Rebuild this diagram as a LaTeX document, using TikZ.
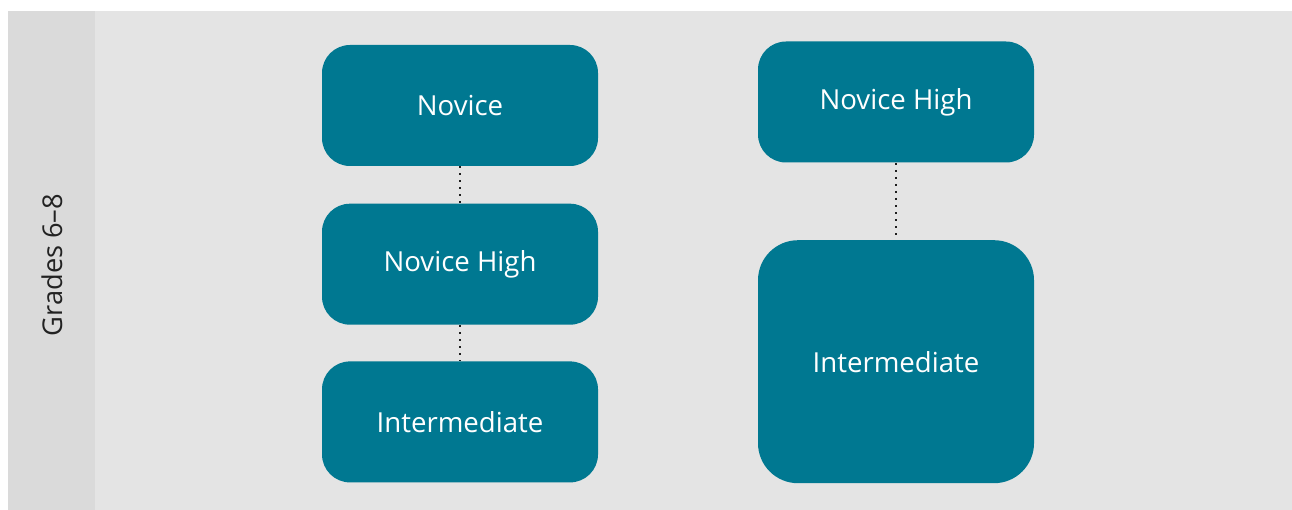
\documentclass[tikz,border=0pt]{standalone}
\usepackage{fontspec}
\setmainfont{Open Sans}
\usepackage{tikz}
\usetikzlibrary{
  positioning,
  backgrounds
}
\definecolor{levelcolor}{RGB}{0, 120, 145}
\definecolor{panelcolor}{RGB}{228, 228, 228}
\definecolor{sidecolor}{RGB}{218, 218, 218}
\definecolor{gradecolor}{RGB}{34, 34, 34}
\definecolor{dotcolor}{RGB}{30, 30, 30}
\tikzset{
leveltext/.style={
  align=center,
  font=\fontsize{15.7}{18}\selectfont,
  text=white
},
levelbox/.style={
  fill=levelcolor,
  rounded corners=0.56cm,
  minimum width=5.52cm,
  minimum height=2.42cm,
  inner sep=0pt,
  leveltext
},
bigbox/.style={
  levelbox,
  rounded corners=0.8cm,
  minimum height=4.86cm
},
gradelabel/.style={
  font=\fontsize{15.5}{18}\selectfont,
  text=gradecolor,
  rotate=90
},
dotline/.style={
  draw=dotcolor,
  line width=1.1pt,
  dash pattern=on 1.1pt off 2.9pt
}
}
\begin{document}
\begin{tikzpicture}
        \useasboundingbox (0,0) rectangle (25.84,-10.2);
        \fill[white] (0,0) rectangle (25.84,-10.2);
        \fill[panelcolor] (0.16,-0.22) rectangle (25.9,-10.3);
        \fill[sidecolor] (0.16,-0.22) rectangle (1.9,-10.3);
        \node[gradelabel] (grades) at (1.04,-5.3) {Grades 6--8};
        % left column
        \node[levelbox] (novice) at (9.2,-2.11) {Novice};
        \node[levelbox, below=0.74cm of novice] (novicehigh) {Novice High};
        \node[levelbox, below=0.72cm of novicehigh] (intermediate) {Intermediate};
        % right column
        \node[levelbox] (novicehighr) at (17.92,-2.04) {Novice High};
        \node[bigbox, below=1.54cm of novicehighr] (intermediater) {Intermediate};
        \draw[dotline] (novice.south) -- (novicehigh.north);
        \draw[dotline] (novicehigh.south) -- (intermediate.north);
        \draw[dotline] (novicehighr.south) -- (intermediater.north);
      \end{tikzpicture}
\end{document}
